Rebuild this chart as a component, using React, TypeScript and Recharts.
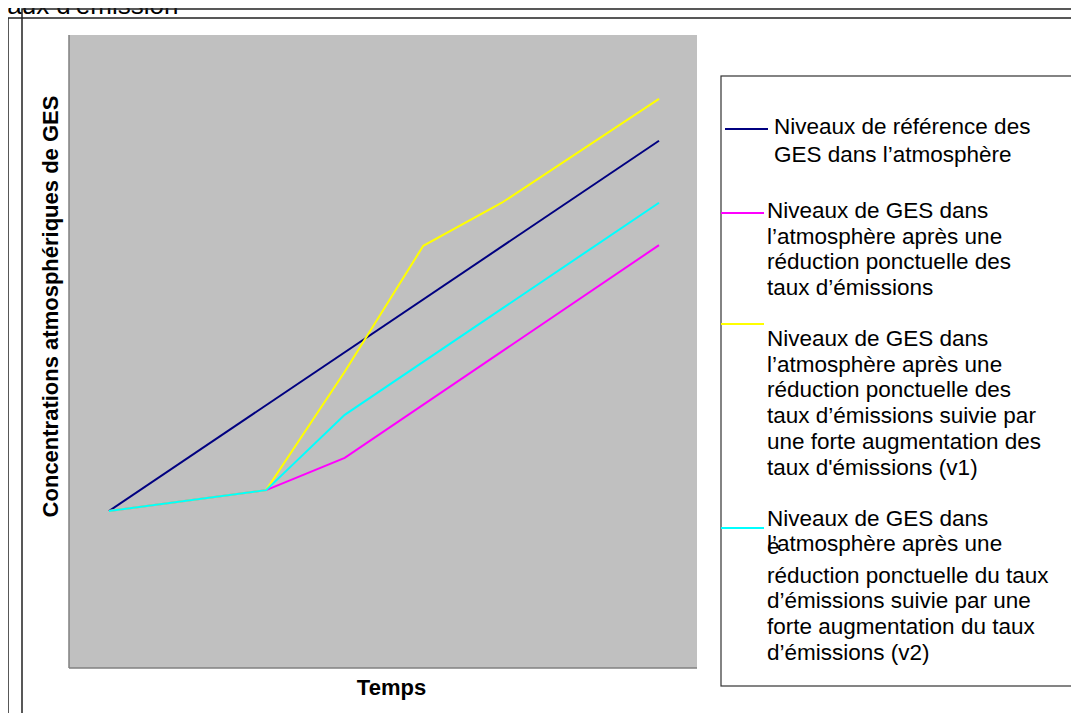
import React from 'react';
import { LineChart, Line, XAxis, YAxis, CartesianGrid, Legend } from 'recharts';

// ---- data ----
const categories = ['t0', 't1', 't2', 't3', 't4', 't5', 't6', 't7'];
const referenceLevels = [24.8, null, null, null, null, null, null, 83.3];
const oneOffReduction = [24.8, null, 28.1, 33.2, null, null, null, 66.8];
const reductionThenIncreaseV1 = [24.8, null, 28.1, 46.8, 66.7, 73.5, null, 89.9];
const reductionThenIncreaseV2 = [24.8, null, 28.1, 40.0, null, null, null, 73.5];

const seriesKeys = ['ref', 'red', 'v1', 'v2'];
const seriesColors = ['#000080', '#FF00FF', '#FFFF00', '#00FFFF'];
const legendLines = [
  ['Niveaux de référence des', 'GES dans l’atmosphère'],
  ['Niveaux de GES dans', 'l’atmosphère après une', 'réduction ponctuelle des', 'taux d’émissions'],
  [
    'Niveaux de GES dans',
    'l’atmosphère après une',
    'réduction ponctuelle des',
    'taux d’émissions suivie par',
    'une forte augmentation des',
    "taux d'émissions (v1)",
  ],
  [
    'Niveaux de GES dans',
    'l’atmosphère après une',
    'réduction ponctuelle du taux',
    'd’émissions suivie par une',
    'forte augmentation du taux',
    'd’émissions (v2)',
  ],
];
const seriesNames = legendLines.map((l) => l.join(' '));

const titleText = "taux d'émission";
const xAxisTitle = 'Temps';
const yAxisTitle = 'Concentrations atmosphériques de GES';

const seriesValues = [referenceLevels, oneOffReduction, reductionThenIncreaseV1, reductionThenIncreaseV2];
const chartData = categories.map((t, i) => {
  const row: Record<string, any> = { t };
  seriesKeys.forEach((k, s) => {
    row[k] = seriesValues[s][i];
  });
  return row;
});

// ---- layout ----
const FONT = '"Liberation Sans", Arial, Helvetica, sans-serif';
const W = 1079;
const H = 721;

const legendLayout = [
  { markY: 129, markX1: 725, markX2: 768, textX: 774, baselines: [134, 162] },
  { markY: 213, markX1: 721, markX2: 764, textX: 767, baselines: [218, 244, 269, 295] },
  { markY: 324, markX1: 721, markX2: 764, textX: 767, baselines: [346, 372, 397, 423, 449, 475] },
  { markY: 528, markX1: 721, markX2: 764, textX: 767, baselines: [526, 551, 583, 608, 634, 660] },
];

const renderLegend = (props: any) => {
  const payload = (props && props.payload) || [];
  return (
    <svg width={W} height={H} style={{ position: 'absolute', left: 0, top: 0, overflow: 'visible' }}>
      <rect x={721} y={76} width={354} height={610} fill="#fff" stroke="#333" strokeWidth={1.2} />
      {payload.map((entry: any) => {
        const i = seriesKeys.indexOf(String(entry.dataKey));
        const lay = legendLayout[i];
        if (!lay) return null;
        const lines = legendLines[i];
        return (
          <g key={String(entry.dataKey)}>
            <line x1={lay.markX1} x2={lay.markX2} y1={lay.markY} y2={lay.markY} stroke={seriesColors[i]} strokeWidth={2} />
            {lines.map((ln, j) => (
              <text key={j} x={lay.textX} y={lay.baselines[j]} fontFamily={FONT} fontSize={22.5} fill="#000">
                {ln}
              </text>
            ))}
            {i === 3 ? (
              <text x={767} y={554} fontFamily={FONT} fontSize={22.5} fill="#000">
                e
              </text>
            ) : null}
          </g>
        );
      })}
    </svg>
  );
};

const renderYLabel = (props: any) => {
  const vb = props.viewBox || { x: 0, y: 35, width: 69, height: 633 };
  const cx = vb.x + 57.5;
  const cy = vb.y + vb.height / 2 - 45;
  return (
    <text
      transform={`translate(${cx}, ${cy}) rotate(-90)`}
      textAnchor="middle"
      fontFamily={FONT}
      fontSize={22}
      fontWeight="bold"
      fill="#000"
    >
      {yAxisTitle}
    </text>
  );
};

const renderXLabel = (props: any) => {
  const vb = props.viewBox || { x: 69, y: 668, width: 628, height: 10 };
  return (
    <text
      x={vb.x + vb.width / 2 + 8.5}
      y={vb.y + 27}
      textAnchor="middle"
      fontFamily={FONT}
      fontSize={22}
      fontWeight="bold"
      fill="#000"
    >
      {xAxisTitle}
    </text>
  );
};

const axisLineStyle = { stroke: '#808080', strokeWidth: 1.5 };

export default function App() {
  return (
    <div style={{ position: 'relative', width: W, height: H, margin: -8, overflow: 'hidden', background: '#fff' }}>
      <div style={{ position: 'absolute', left: 0, top: 0 }}>
        <LineChart width={W} height={H} data={chartData} margin={{ top: 35, right: 382, bottom: 43, left: 0 }}>
          <CartesianGrid fill="#C0C0C0" stroke="none" horizontal={false} vertical={false} />
          <XAxis
            dataKey="t"
            type="category"
            padding={{ left: 40, right: 38 }}
            height={10}
            tick={false}
            tickLine={false}
            axisLine={axisLineStyle}
            label={renderXLabel}
          />
          <XAxis
            xAxisId="top"
            orientation="top"
            dataKey="t"
            height={0}
            tick={false}
            tickLine={false}
            axisLine={axisLineStyle}
          />
          <YAxis
            domain={[0, 100]}
            type="number"
            width={69}
            tick={false}
            tickLine={false}
            axisLine={axisLineStyle}
            label={renderYLabel}
          />
          <YAxis
            yAxisId="right"
            orientation="right"
            domain={[0, 100]}
            width={0}
            tick={false}
            tickLine={false}
            axisLine={axisLineStyle}
          />
          {seriesKeys.map((k, i) => (
            <Line
              key={k}
              type="linear"
              dataKey={k}
              name={seriesNames[i]}
              stroke={seriesColors[i]}
              strokeWidth={2}
              dot={false}
              activeDot={false}
              connectNulls
              isAnimationActive={false}
            />
          ))}
          <Legend
            layout="vertical"
            align="center"
            verticalAlign="middle"
            wrapperStyle={{ left: 0, top: 0, width: W, height: H }}
            content={renderLegend}
          />
        </LineChart>
      </div>
      <svg
        width={W}
        height={H}
        style={{ position: 'absolute', left: 0, top: 0, pointerEvents: 'none', zIndex: 5 }}
      >
        <text x={0} y={14} fontFamily={FONT} fontSize={26} fill="#000">
          {titleText}
        </text>
        <rect x={22} y={9} width={1200} height={710} fill="none" stroke="#222" strokeWidth={1.5} />
        <rect x={8} y={18} width={1200} height={800} fill="none" stroke="#222" strokeWidth={1.5} />
      </svg>
    </div>
  );
}
